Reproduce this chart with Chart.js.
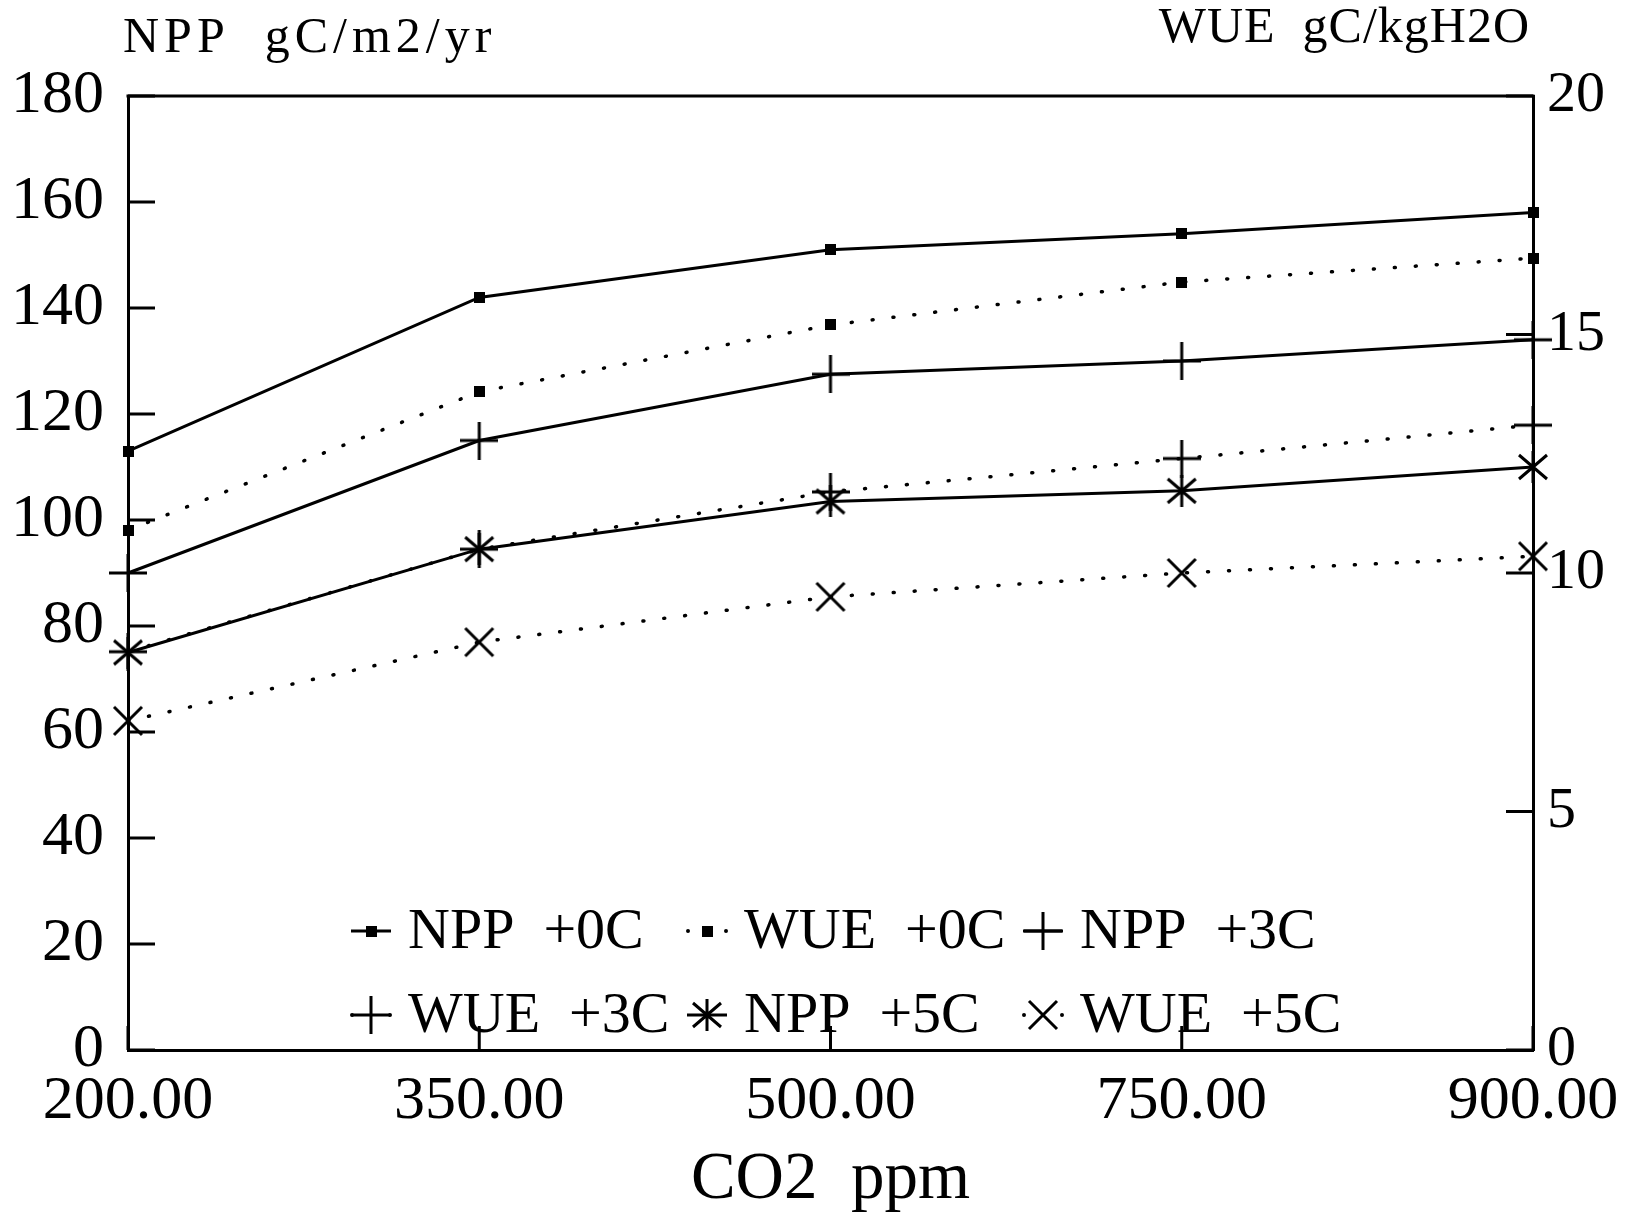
<!DOCTYPE html>
<html>
<head>
<meta charset="utf-8">
<script src="https://cdn.jsdelivr.net/npm/chart.js@4/dist/chart.umd.min.js"></script>
<style>
  body { margin: 0; background: #fff; }
  #wrap { width: 1641px; height: 1219px; }
</style>
</head>
<body>
<div id="wrap"><canvas id="chart" width="1641" height="1219"></canvas></div>
<script>
// CO2 levels (evenly spaced categories on the original)
const co2Labels = ['200.00', '350.00', '500.00', '750.00', '900.00'];

// NPP, gC/m2/yr (left axis)
const npp0C = [113, 142, 151, 154, 158];
const npp3C = [90, 115, 127.5, 130, 134];
const npp5C = [75, 94.5, 103.5, 105.5, 110];

// WUE, gC/kgH2O (right axis)
const wue0C = [10.9, 13.8, 15.2, 16.1, 16.6];
const wue3C = [8.35, 10.5, 11.7, 12.4, 13.1];
const wue5C = [6.9, 8.55, 9.5, 10.0, 10.35];

const nppTicks = { min: 0, max: 180, step: 20 };
const wueTicks = { min: 0, max: 20, step: 5 };

const FONT = '"Liberation Serif", "Times New Roman", serif';

// marker images, drawn once
function makeMarker(size, draw) {
    const c = document.createElement('canvas');
    c.width = size; c.height = size;
    const g = c.getContext('2d');
    g.strokeStyle = '#000';
    g.fillStyle = '#000';
    g.lineWidth = 3;
    draw(g, size);
    return c;
}
const squareMark = makeMarker(11, (g, s) => g.fillRect(0, 0, s, s));
const plusMark = makeMarker(38, (g, s) => {
    g.beginPath();
    g.moveTo(0, s / 2); g.lineTo(s, s / 2);
    g.moveTo(s / 2, 0); g.lineTo(s / 2, s);
    g.stroke();
});
const starMark = makeMarker(32, (g, s) => {
    g.beginPath();
    g.moveTo(2, 4); g.lineTo(s - 2, s - 4);
    g.moveTo(s - 2, 4); g.lineTo(2, s - 4);
    g.moveTo(s / 2, 0); g.lineTo(s / 2, s);
    g.stroke();
});
const xMark = makeMarker(32, (g, s) => {
    g.beginPath();
    g.moveTo(2, 2); g.lineTo(s - 2, s - 2);
    g.moveTo(s - 2, 2); g.lineTo(2, s - 2);
    g.stroke();
});

function series(label, data, axis, dotted, marker) {
    return {
        label: label,
        data: data,
        yAxisID: axis,
        borderColor: '#000',
        backgroundColor: '#000',
        borderWidth: dotted ? 3.5 : 3,
        borderDash: dotted ? [1, 20] : [],
        borderCapStyle: dotted ? 'round' : 'butt',
        pointStyle: marker,
        pointRadius: 6,
        pointHoverRadius: 6,
        tension: 0,
        fill: false,
        clip: false,
        dotted: dotted
    };
}

// top frame line, inward ticks, axis captions and the in-plot legend
const framePlugin = {
    id: 'frame',
    afterDraw(chart) {
        const { ctx, chartArea: a, scales } = chart;
        ctx.save();
        ctx.strokeStyle = '#000';
        ctx.lineWidth = 3;
        ctx.beginPath();
        ctx.moveTo(a.left - 1.5, a.top);
        ctx.lineTo(a.right + 1.5, a.top);
        ctx.stroke();

        ctx.beginPath();
        scales.y.ticks.forEach((t, i) => {
            const y = scales.y.getPixelForTick(i);
            ctx.moveTo(a.left, y); ctx.lineTo(a.left + 27, y);
        });
        scales.y1.ticks.forEach((t, i) => {
            const y = scales.y1.getPixelForTick(i);
            ctx.moveTo(a.right, y); ctx.lineTo(a.right - 27, y);
        });
        scales.x.ticks.forEach((t, i) => {
            const x = scales.x.getPixelForTick(i);
            ctx.moveTo(x, a.bottom); ctx.lineTo(x, a.bottom - 24);
        });
        ctx.stroke();

        ctx.fillStyle = '#000';
        ctx.font = '50px ' + FONT;
        ctx.textBaseline = 'alphabetic';
        ctx.textAlign = 'left';
        ctx.letterSpacing = '5px';
        ctx.fillText('NPP  gC/m2/yr', a.left - 5, 52);
        ctx.textAlign = 'right';
        ctx.letterSpacing = '1px';
        ctx.fillText('WUE  gC/kgH2O', a.right - 3, 42);
        ctx.letterSpacing = '0px';

        // legend, 3 per row
        ctx.font = '58px ' + FONT;
        ctx.textAlign = 'left';
        ctx.textBaseline = 'middle';
        chart.data.datasets.forEach((ds, i) => {
            const col = i % 3, row = Math.floor(i / 3);
            const mx = 371 + col * 336;
            const my = 931 + row * 84;
            ctx.beginPath();
            if (ds.dotted) {
                ctx.lineCap = 'round';
                ctx.lineWidth = 4;
                ctx.moveTo(mx - 19, my); ctx.lineTo(mx - 19, my + 0.1);
                ctx.moveTo(mx + 19, my); ctx.lineTo(mx + 19, my + 0.1);
            } else {
                ctx.lineCap = 'butt';
                ctx.lineWidth = 3;
                ctx.moveTo(mx - 20, my); ctx.lineTo(mx + 20, my);
            }
            ctx.stroke();
            const m = ds.pointStyle;
            ctx.drawImage(m, mx - m.width / 2, my - m.height / 2);
            ctx.fillText(ds.label, mx + 37, my + 2);
        });
        ctx.restore();
    }
};

const tickFont = { family: FONT, size: 62 };

new Chart(document.getElementById('chart'), {
    type: 'line',
    data: {
        labels: co2Labels,
        datasets: [
            series('NPP  +0C', npp0C, 'y', false, squareMark),
            series('WUE  +0C', wue0C, 'y1', true, squareMark),
            series('NPP  +3C', npp3C, 'y', false, plusMark),
            series('WUE  +3C', wue3C, 'y1', true, plusMark),
            series('NPP  +5C', npp5C, 'y', false, starMark),
            series('WUE  +5C', wue5C, 'y1', true, xMark)
        ]
    },
    options: {
        responsive: false,
        animation: false,
        events: [],
        layout: { padding: { top: 96, left: 0, right: 0, bottom: 0 } },
        plugins: {
            legend: { display: false },
            tooltip: { enabled: false }
        },
        scales: {
            x: {
                offset: false,
                grid: { display: false, drawTicks: false },
                border: { display: true, color: '#000', width: 3 },
                ticks: { font: tickFont, color: '#000', padding: 15, maxRotation: 0, autoSkip: false },
                title: { display: true, text: 'CO2  ppm', font: { family: FONT, size: 67 }, color: '#000', padding: { top: 0, bottom: -2 } },
                afterFit: s => { s.height = 169; }
            },
            y: {
                position: 'left',
                min: nppTicks.min, max: nppTicks.max,
                grid: { display: false, drawTicks: false },
                border: { display: true, color: '#000', width: 3 },
                ticks: { stepSize: nppTicks.step, font: tickFont, color: '#000', padding: 24 },
                afterFit: s => { s.width = 128; }
            },
            y1: {
                position: 'right',
                min: wueTicks.min, max: wueTicks.max,
                grid: { display: false, drawTicks: false },
                border: { display: true, color: '#000', width: 3 },
                ticks: { stepSize: wueTicks.step, font: { family: FONT, size: 58 }, color: '#000', padding: 14 },
                afterFit: s => { s.width = 108; }
            }
        }
    },
    plugins: [framePlugin]
});
</script>
</body>
</html>
